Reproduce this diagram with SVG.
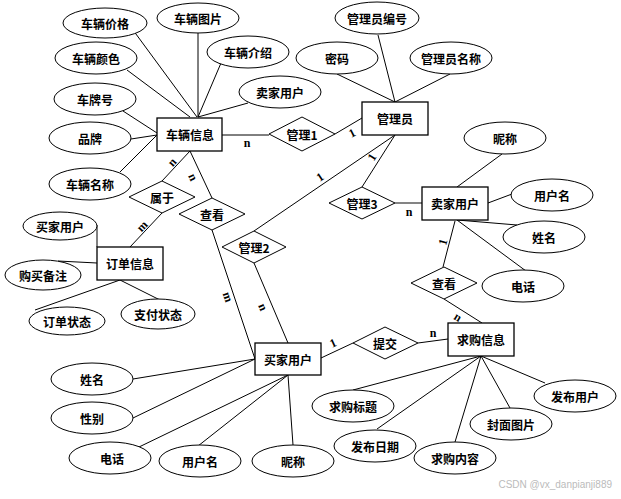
<svg xmlns="http://www.w3.org/2000/svg" width="621" height="499" viewBox="0 0 621 499">
<style>
.e{fill:#fff;stroke:#000;stroke-width:1}
.r{fill:#fff;stroke:#000;stroke-width:1.3}
.d{fill:#fff;stroke:#000;stroke-width:1}
.t{font-family:"Noto Sans CJK SC","Noto Sans",sans-serif;font-size:12px;font-weight:bold;text-anchor:middle;dominant-baseline:central;fill:#000}
.c line{stroke:#000;stroke-width:1}
.l{font-family:"Liberation Serif",serif;font-size:12px;font-weight:bold;text-anchor:middle;dominant-baseline:central;fill:#000}
</style>
<rect x="0" y="0" width="621" height="499" fill="#fff"/>
<g id="connectors" class="c">
<line x1="133" y1="30" x2="197" y2="117"/>
<line x1="198" y1="33" x2="198" y2="117"/>
<line x1="221" y1="63" x2="198" y2="117"/>
<line x1="248" y1="103" x2="198" y2="117"/>
<line x1="127" y1="70" x2="190" y2="117"/>
<line x1="123" y1="111" x2="157" y2="133"/>
<line x1="131" y1="139" x2="157" y2="135"/>
<line x1="120" y1="172" x2="157" y2="135"/>
<line x1="222" y1="135" x2="269" y2="135"/>
<line x1="190" y1="151" x2="162" y2="181"/>
<line x1="190" y1="151" x2="212" y2="198"/>
<line x1="162" y1="213" x2="130" y2="247"/>
<line x1="212" y1="230" x2="255" y2="359"/>
<line x1="254" y1="263" x2="288" y2="343"/>
<line x1="254" y1="231" x2="395" y2="135"/>
<line x1="335" y1="134" x2="362" y2="118"/>
<line x1="362" y1="187" x2="395" y2="135"/>
<line x1="395" y1="203" x2="422" y2="203" style="stroke:#777;stroke-width:1.8"/>
<line x1="378" y1="35" x2="395" y2="102"/>
<line x1="337" y1="74" x2="395" y2="102"/>
<line x1="450" y1="74" x2="395" y2="102"/>
<line x1="502" y1="154" x2="457" y2="187"/>
<line x1="512" y1="194" x2="488" y2="203"/>
<line x1="457" y1="220" x2="517" y2="225"/>
<line x1="457" y1="220" x2="526" y2="271"/>
<line x1="455" y1="221" x2="443" y2="267"/>
<line x1="444" y1="299" x2="482" y2="323"/>
<line x1="321" y1="358" x2="353" y2="343"/>
<line x1="418" y1="343" x2="448" y2="339"/>
<line x1="481" y1="356" x2="545" y2="383"/>
<line x1="481" y1="356" x2="510" y2="408"/>
<line x1="481" y1="356" x2="455" y2="442"/>
<line x1="481" y1="356" x2="377" y2="429"/>
<line x1="481" y1="356" x2="353" y2="390"/>
<line x1="255" y1="359" x2="133" y2="379"/>
<line x1="255" y1="359" x2="133" y2="418"/>
<line x1="288" y1="375" x2="139" y2="447"/>
<line x1="288" y1="375" x2="198" y2="446"/>
<line x1="288" y1="375" x2="293" y2="445"/>
<line x1="97" y1="225" x2="97" y2="247"/>
<line x1="58" y1="261" x2="97" y2="263"/>
<line x1="120" y1="280" x2="35" y2="310"/>
<line x1="120" y1="280" x2="162" y2="301"/>
<text class="l" x="247" y="143">n</text>
<text class="l" transform="translate(172,162) rotate(-48)">n</text>
<text class="l" transform="translate(193,177) rotate(65)">n</text>
<text class="l" transform="translate(142,226) rotate(-46)">m</text>
<text class="l" transform="translate(228,297) rotate(71)">m</text>
<text class="l" transform="translate(263,307) rotate(67)">n</text>
<text class="l" transform="translate(320,177) rotate(-34)">1</text>
<text class="l" transform="translate(352,133) rotate(-27)">1</text>
<text class="l" transform="translate(372,157) rotate(-58)">1</text>
<text class="l" x="409" y="212">n</text>
<text class="l" transform="translate(443,242) rotate(-75)">1</text>
<text class="l" transform="translate(458,317) rotate(31)">n</text>
<text class="l" transform="translate(333,343) rotate(-25)">1</text>
<text class="l" x="433" y="333">n</text>
</g>
<g id="n-vehicle"><rect class="r" x="157" y="118" width="65" height="33"/><text class="t" x="190" y="134">车辆信息</text></g>
<g id="n-order"><rect class="r" x="97" y="247" width="66" height="33"/><text class="t" x="130" y="263">订单信息</text></g>
<g id="n-admin"><rect class="r" x="362" y="102" width="66" height="33"/><text class="t" x="395" y="118">管理员</text></g>
<g id="n-seller"><rect class="r" x="422" y="187" width="66" height="33"/><text class="t" x="455" y="203">卖家用户</text></g>
<g id="n-buyer"><rect class="r" x="255" y="343" width="66" height="32"/><text class="t" x="288" y="359">买家用户</text></g>
<g id="n-request"><rect class="r" x="448" y="323" width="66" height="33"/><text class="t" x="481" y="339">求购信息</text></g>
<g id="r-manage1"><polygon class="d" points="269,134 302,117 335,134 302,151"/><text class="t" x="302" y="134">管理1</text></g>
<g id="r-belong"><polygon class="d" points="129,197 162,181 195,197 162,213"/><text class="t" x="162" y="197">属于</text></g>
<g id="r-view1"><polygon class="d" points="179,214 212,198 245,214 212,230"/><text class="t" x="212" y="214">查看</text></g>
<g id="r-manage2"><polygon class="d" points="222,247 254,231 286,247 254,263"/><text class="t" x="254" y="247">管理2</text></g>
<g id="r-manage3"><polygon class="d" points="329,203 362,187 395,203 362,219"/><text class="t" x="362" y="203">管理3</text></g>
<g id="r-view2"><polygon class="d" points="411,283 444,267 477,283 444,299"/><text class="t" x="444" y="283">查看</text></g>
<g id="r-submit"><polygon class="d" points="353,343 385,327 418,343 385,359"/><text class="t" x="385" y="343">提交</text></g>
<g id="a-price"><ellipse class="e" cx="105" cy="23" rx="42" ry="15"/><text class="t" x="105" y="23">车辆价格</text></g>
<g id="a-img"><ellipse class="e" cx="198" cy="18" rx="41" ry="15"/><text class="t" x="198" y="18">车辆图片</text></g>
<g id="a-color"><ellipse class="e" cx="96" cy="58" rx="41" ry="16"/><text class="t" x="96" y="58">车辆颜色</text></g>
<g id="a-intro"><ellipse class="e" cx="248" cy="52" rx="41" ry="16"/><text class="t" x="248" y="52">车辆介绍</text></g>
<g id="a-vseller"><ellipse class="e" cx="280" cy="92" rx="41" ry="16"/><text class="t" x="280" y="92">卖家用户</text></g>
<g id="a-plate"><ellipse class="e" cx="95" cy="99" rx="41" ry="16"/><text class="t" x="95" y="99">车牌号</text></g>
<g id="a-brand"><ellipse class="e" cx="90" cy="138" rx="41" ry="16"/><text class="t" x="90" y="138">品牌</text></g>
<g id="a-vname"><ellipse class="e" cx="90" cy="184" rx="41" ry="16"/><text class="t" x="90" y="184">车辆名称</text></g>
<g id="a-adminno"><ellipse class="e" cx="377" cy="18" rx="42" ry="16"/><text class="t" x="377" y="18">管理员编号</text></g>
<g id="a-pwd"><ellipse class="e" cx="337" cy="58" rx="41" ry="16"/><text class="t" x="337" y="58">密码</text></g>
<g id="a-adminname"><ellipse class="e" cx="451" cy="58" rx="41" ry="16"/><text class="t" x="451" y="58">管理员名称</text></g>
<g id="a-snick"><ellipse class="e" cx="505" cy="138" rx="41" ry="16"/><text class="t" x="505" y="138">昵称</text></g>
<g id="a-suser"><ellipse class="e" cx="552" cy="195" rx="41" ry="16"/><text class="t" x="552" y="195">用户名</text></g>
<g id="a-sname"><ellipse class="e" cx="544" cy="237" rx="41" ry="16"/><text class="t" x="544" y="237">姓名</text></g>
<g id="a-sphone"><ellipse class="e" cx="523" cy="286" rx="41" ry="16"/><text class="t" x="523" y="286">电话</text></g>
<g id="a-obuyer"><ellipse class="e" cx="60" cy="226" rx="37" ry="14"/><text class="t" x="60" y="226">买家用户</text></g>
<g id="a-onote"><ellipse class="e" cx="43" cy="275" rx="38" ry="15"/><text class="t" x="43" y="275">购买备注</text></g>
<g id="a-ostate"><ellipse class="e" cx="67" cy="321" rx="38" ry="14"/><text class="t" x="67" y="321">订单状态</text></g>
<g id="a-pstate"><ellipse class="e" cx="158" cy="314" rx="37" ry="15"/><text class="t" x="158" y="314">支付状态</text></g>
<g id="a-bname"><ellipse class="e" cx="92" cy="379" rx="41" ry="16"/><text class="t" x="92" y="379">姓名</text></g>
<g id="a-bsex"><ellipse class="e" cx="92" cy="418" rx="41" ry="16"/><text class="t" x="92" y="418">性别</text></g>
<g id="a-bphone"><ellipse class="e" cx="110" cy="458" rx="41" ry="16"/><text class="t" x="112" y="458">电话</text></g>
<g id="a-buser"><ellipse class="e" cx="200" cy="461" rx="41" ry="16"/><text class="t" x="200" y="461">用户名</text></g>
<g id="a-bnick"><ellipse class="e" cx="293" cy="461" rx="41" ry="16"/><text class="t" x="293" y="461">昵称</text></g>
<g id="a-rtitle"><ellipse class="e" cx="353" cy="406" rx="41" ry="16"/><text class="t" x="353" y="406">求购标题</text></g>
<g id="a-rdate"><ellipse class="e" cx="375" cy="446" rx="41" ry="16"/><text class="t" x="375" y="446">发布日期</text></g>
<g id="a-rcontent"><ellipse class="e" cx="455" cy="458" rx="41" ry="16"/><text class="t" x="455" y="458">求购内容</text></g>
<g id="a-rcover"><ellipse class="e" cx="511" cy="424" rx="41" ry="16"/><text class="t" x="511" y="424">封面图片</text></g>
<g id="a-rpub"><ellipse class="e" cx="575" cy="396" rx="41" ry="16"/><text class="t" x="575" y="396">发布用户</text></g>
<text x="612" y="488" font-family="'Liberation Sans',sans-serif" font-size="10" fill="#bbb" text-anchor="end">CSDN @vx_danpianji889</text>
</svg>
